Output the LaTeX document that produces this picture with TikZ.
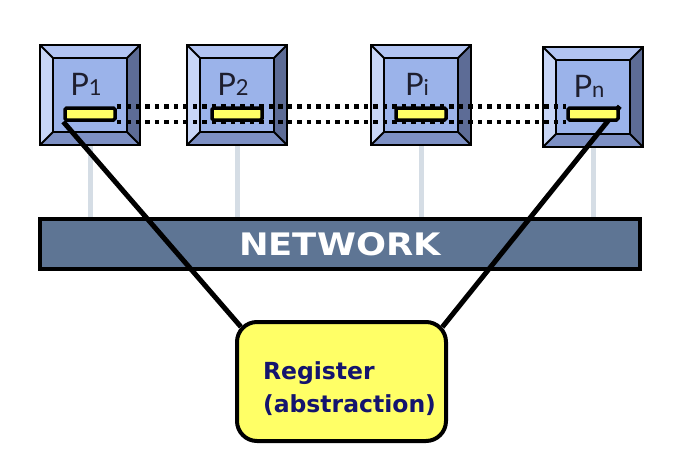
\documentclass[tikz,border=0pt]{standalone}
\usepackage{fontspec}
\setmainfont{Lato}
\newfontfamily\heavyfont{DejaVu Sans}
\usetikzlibrary{calc,positioning}
\pgfdeclarelayer{links}
\pgfdeclarelayer{wires}
\pgfdeclarelayer{top}
\pgfsetlayers{links,main,wires,top}

\definecolor{facecol}{HTML}{9BB3EA}
\definecolor{topcol}{HTML}{B2C4F2}
\definecolor{leftcol}{HTML}{C8D6F7}
\definecolor{rightcol}{HTML}{5D6C96}
\definecolor{botcol}{HTML}{7D90C4}
\definecolor{regcol}{HTML}{FFFF66}
\definecolor{netcol}{HTML}{5E7594}
\definecolor{linkcol}{HTML}{D5DDE5}
\definecolor{labelcol}{HTML}{1E1E2E}
\definecolor{textcol}{HTML}{14146E}

\begin{document}
\begin{tikzpicture}[x=1pt,y=-1pt,
  procbox/.style={minimum size=100pt,inner sep=0pt,outer sep=0pt},
  facebox/.style={minimum size=74pt,inner sep=0pt,outer sep=0pt},
  bevel/.style={line width=1.8pt},
  plabel/.style={anchor=base,inner sep=0pt,text=labelcol,
    font=\fontsize{31}{31}\selectfont},
  regbar/.style={draw,line width=3.5pt,fill=regcol,minimum width=50pt,
    minimum height=12pt,inner sep=0pt,rounded corners=1.5pt},
  link/.style={draw=linkcol,line width=5pt},
  netbar/.style={draw,line width=4pt,fill=netcol,minimum width=600pt,
    minimum height=50pt,inner sep=0pt,text=white,
    font=\heavyfont\bfseries\fontsize{31}{31}\selectfont},
  regbox/.style={draw,line width=4pt,fill=regcol,rounded corners=20pt,
    minimum width=209pt,minimum height=119pt,align=left,text=textcol,
    font=\heavyfont\bfseries\fontsize{23.5}{33}\selectfont},
  dotwire/.style={line width=4.5pt,dash pattern=on 4.5pt off 5pt},
  wire/.style={line width=5pt}]
  \useasboundingbox (0,0) rectangle (677,464);
  \coordinate (regrow) at (0,114);
  % processors
  \foreach \n/\x/\y/\t in {1/90/95/1,2/237/95/2,i/421/95/i,n/593/97/n}{
    \node[procbox] (p\n) at (\x,\y) {};
    \node[facebox] (f\n) at (p\n.center) {};
    \fill[facecol] (f\n.north west) rectangle (f\n.south east);
    \fill[topcol] (p\n.north west) -- (p\n.north east) -- (f\n.north east) -- (f\n.north west) -- cycle;
    \fill[rightcol] (p\n.north east) -- (p\n.south east) -- (f\n.south east) -- (f\n.north east) -- cycle;
    \fill[botcol] (p\n.south east) -- (p\n.south west) -- (f\n.south west) -- (f\n.south east) -- cycle;
    \fill[leftcol] (p\n.south west) -- (p\n.north west) -- (f\n.north west) -- (f\n.south west) -- cycle;
    \draw[bevel] (p\n.north west) rectangle (p\n.south east);
    \draw[bevel] (f\n.north west) rectangle (f\n.south east);
    \foreach \c in {north west,north east,south east,south west}
      \draw[bevel] (p\n.\c) -- (f\n.\c);
    \node[plabel] (l\n) at ($(p\n.north west)+(46,50)$) {P{\fontsize{22}{22}\selectfont\t}};
    \begin{pgfonlayer}{top}
      \node[regbar] (r\n) at (p\n |- regrow) {};
    \end{pgfonlayer}
  }
  % network
  \node[netbar] (net) at (340,244) {\scalebox{1.14}[1]{NETWORK}};
  \begin{pgfonlayer}{links}
    \foreach \n in {1,2,i,n}
      \draw[link] (p\n.south) -- (p\n.south |- net.north);
  \end{pgfonlayer}
  % register abstraction
  \begin{pgfonlayer}{top}
    \node[regbox] (abs) at (341.5,381.5) {\rule{0pt}{32pt}\hspace*{16pt}Register\\\hspace*{16pt}(abstraction)};
  \end{pgfonlayer}
  \begin{pgfonlayer}{wires}
    \draw[dotwire] (r1.north east) -- (r1.north east -| rn.west);
    \draw[dotwire] (r1.south east) -- (r1.south east -| rn.west);
    \draw[wire,shorten >=-9pt] (r1.south west) -- (abs.north west);
    \draw[wire,shorten >=-9pt] (rn.north east) -- (abs.north east);
  \end{pgfonlayer}
\end{tikzpicture}
\end{document}
